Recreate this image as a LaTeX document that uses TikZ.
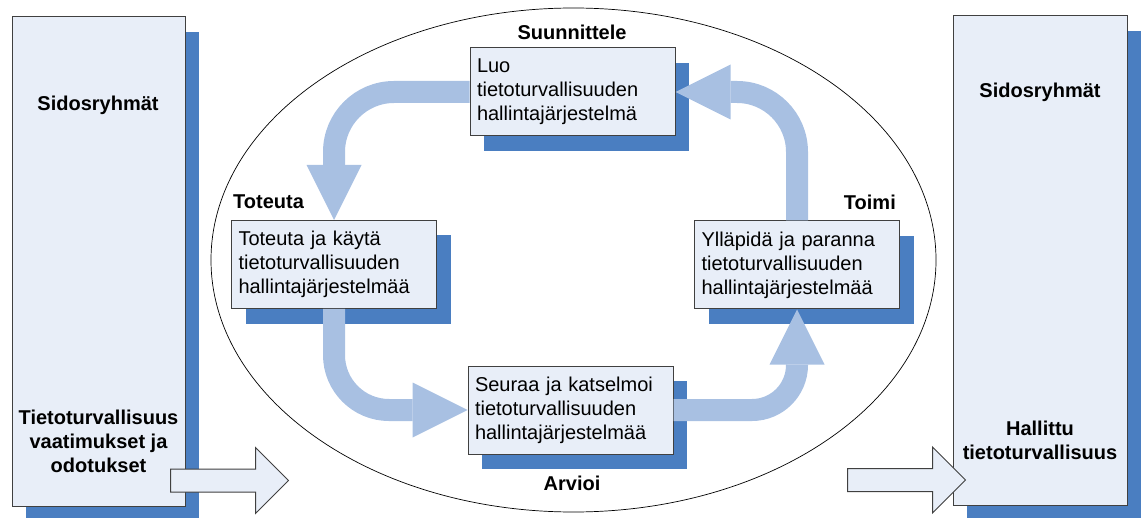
\documentclass[tikz,border=0pt]{standalone}
\usepackage{fontspec}
\setmainfont{Liberation Sans}
\usetikzlibrary{arrows.meta,shapes.arrows,shapes.geometric,shadows}
\definecolor{kastenblau}{RGB}{232,238,248}
\definecolor{schattenblau}{RGB}{74,126,193}
\definecolor{pfeilblau}{RGB}{168,192,226}
\definecolor{randgrau}{RGB}{64,64,64}

\begin{document}
\begin{tikzpicture}[x=1pt,y=-1pt,
        kasten/.style={draw=randgrau,fill=kastenblau,line width=1pt,drop shadow={shadow xshift=14pt,shadow yshift=-15pt,fill=schattenblau,opacity=1}},
        schritt/.style={kasten,text width=191pt,inner xsep=7pt,minimum height=88pt,align=left,font=\fontsize{20}{24}\selectfont},
        titel/.style={inner sep=0pt,align=center,font=\fontsize{20}{24}\selectfont\bfseries},
        fluss/.style={draw=pfeilblau,line width=22pt,-{Triangle[length=55pt,width=55pt,line width=0pt]}},
        block/.style={single arrow,draw=randgrau,fill=kastenblau,line width=1pt,minimum height=118pt,inner xsep=0pt,inner ysep=11pt,single arrow head extend=21.5pt,anchor=tail}]
            \useasboundingbox (0,0) rectangle (1142,518);

            % Kreis
            \node[draw,ellipse,line width=0.7pt,minimum width=725pt,minimum height=504pt] (zyklus) at (573.5,260) {};

            % Sidosryhmät
            \node[kasten,minimum width=173pt,minimum height=489pt] (sidosL) at (98.5,261.5) {};
            \node[kasten,minimum width=174pt,minimum height=489pt] (sidosR) at (1040,260.5) {};
            \node[titel] (sidosLtxt) at (98,105) {Sidosryhmät};
            \node[titel] (sidosRtxt) at (1040,92) {Sidosryhmät};
            \node[titel] (vaatimukset) at (98.5,441) {Tietoturvallisuus\\vaatimukset ja\\odotukset};
            \node[titel] (hallittu) at (1040,440) {Hallittu\\tietoturvallisuus};

            % Schritte
            \node[schritt] (luo) at (572.5,92) {Luo\\tietoturvallisuuden\\hallintajärjestelmä};
            \node[schritt] (toteuta) at (334,264.5) {Toteuta ja käytä\\tietoturvallisuuden\\hallintajärjestelmää};
            \node[schritt] (seuraa) at (570.5,410) {Seuraa ja katselmoi\\tietoturvallisuuden\\hallintajärjestelmää};
            \node[schritt] (yllapida) at (797,265) {Ylläpidä ja paranna\\tietoturvallisuuden\\hallintajärjestelmää};

            % Beschriftungen
            \node[titel] (suunnittele) at (572,32) {Suunnittele};
            \node[titel,anchor=west] (toteutaT) at (233,202) {Toteuta};
            \node[titel,anchor=east] (toimi) at (896,202) {Toimi};
            \node[titel] (arvioi) at (572,483) {Arvioi};

            % Kreislauf
            \draw[fluss,rounded corners=60pt] (luo.west) -| (toteuta.north);
            \draw[fluss,rounded corners=55pt] (toteuta.south) |- (seuraa.west);
            \draw[fluss,rounded corners=45pt] (seuraa.east) -| (yllapida.south);
            \draw[fluss,rounded corners=60pt] (yllapida.north) |- (luo.east);

            % Ein- und Ausgang
            \node[block] (hinein) at (170,480.5) {};
            \node[block] (hinaus) at (847,480) {};
        \end{tikzpicture}
\end{document}
